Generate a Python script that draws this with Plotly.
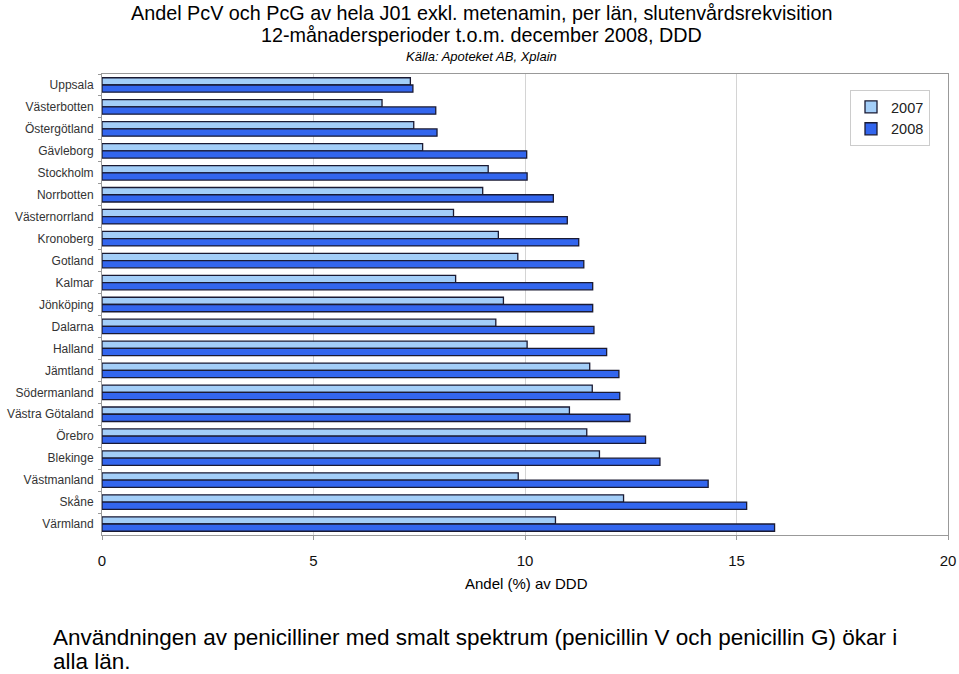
import plotly.graph_objects as go

lan = ["Uppsala", "Västerbotten", "Östergötland", "Gävleborg", "Stockholm", "Norrbotten",
       "Västernorrland", "Kronoberg", "Gotland", "Kalmar", "Jönköping", "Dalarna", "Halland",
       "Jämtland", "Södermanland", "Västra Götaland", "Örebro", "Blekinge", "Västmanland",
       "Skåne", "Värmland"]
v2007 = [7.29, 6.62, 7.37, 7.58, 9.13, 9.00, 8.31, 9.37, 9.83, 8.36, 9.49, 9.31, 10.05,
         11.53, 11.59, 11.05, 11.46, 11.76, 9.84, 12.33, 10.72]
v2008 = [7.35, 7.89, 7.92, 10.04, 10.05, 10.67, 11.00, 11.27, 11.39, 11.60, 11.60, 11.63, 11.93,
         12.22, 12.24, 12.48, 12.85, 13.19, 14.33, 15.24, 15.90]
x_ticks = [0, 5, 10, 15, 20]

L, R, T, B = 102, 11, 74, 139
W, H = 959, 674
pw, ph = W - L - R, H - T - B

def px_x(p):
    return (p - L) / pw

def px_y(p):
    return (H - B - p) / ph

fig = go.Figure()
fig.add_trace(go.Bar(y=lan, x=v2007, orientation="h", name="2007",
                     marker=dict(color="#A3CEF8", line=dict(color="#1a1a33", width=1.3))))
fig.add_trace(go.Bar(y=lan, x=v2008, orientation="h", name="2008",
                     marker=dict(color="#3366EE", line=dict(color="#1a1a33", width=1.3))))

fig.update_layout(
    width=W, height=H,
    margin=dict(l=L, r=R, t=T, b=B, pad=0, autoexpand=False),
    paper_bgcolor="white", plot_bgcolor="white",
    barmode="group", bargap=0.34, bargroupgap=0,
    font=dict(family="Liberation Sans, Arial, sans-serif", color="#000"),
    showlegend=True,
    legend=dict(x=px_x(850), y=px_y(90), xanchor="left", yanchor="top",
                bordercolor="#cccccc", borderwidth=1, bgcolor="white",
                font=dict(size=14.5, color="#222"), traceorder="normal",
                itemwidth=30, tracegroupgap=4),
)
fig.update_xaxes(range=[0, 20], tickvals=x_ticks, showgrid=True, gridcolor="#d4d4d4",
                 gridwidth=1, showline=True, linecolor="#999999", mirror=True,
                 ticks="outside", ticklen=4, tickcolor="#999999",
                 tickfont=dict(size=15, color="#111"), automargin=False,
                 ticklabelstandoff=8, zeroline=False, fixedrange=True)
fig.update_yaxes(autorange="reversed", showline=True, linecolor="#999999", mirror=True,
                 ticks="outside", ticklen=3, tickcolor="#999999", tickson="boundaries",
                 tickfont=dict(size=12, color="#333"), ticklabelstandoff=5, automargin=False,
                 showgrid=False, fixedrange=True)

fam = "Liberation Sans, Arial"
cx = px_x(481)
fig.add_annotation(text="Andel PcV och PcG av hela J01 exkl. metenamin, per län, slutenvårdsrekvisition",
                   x=cx, y=px_y(13), xref="paper", yref="paper", showarrow=False,
                   xanchor="center", yanchor="middle", font=dict(size=19.8, family=fam, color="#000"))
fig.add_annotation(text="12-månadersperioder t.o.m. december 2008, DDD",
                   x=cx, y=px_y(35), xref="paper", yref="paper", showarrow=False,
                   xanchor="center", yanchor="middle", font=dict(size=19.8, family=fam, color="#000"))
fig.add_annotation(text="<i>Källa: Apoteket AB, Xplain</i>",
                   x=cx, y=px_y(56), xref="paper", yref="paper", showarrow=False,
                   xanchor="center", yanchor="middle", font=dict(size=13, family=fam, color="#000"))
fig.add_annotation(text="Andel (%) av DDD",
                   x=px_x(526), y=px_y(583), xref="paper", yref="paper", showarrow=False,
                   xanchor="center", yanchor="middle", font=dict(size=15, family=fam, color="#000"))
fig.add_annotation(text="Användningen av penicilliner med smalt spektrum (penicillin V och penicillin G) ökar i",
                   x=px_x(51), y=px_y(637), xref="paper", yref="paper", showarrow=False,
                   xanchor="left", yanchor="middle", align="left",
                   font=dict(size=22.5, family=fam, color="#000"))
fig.add_annotation(text="alla län.",
                   x=px_x(51), y=px_y(661), xref="paper", yref="paper", showarrow=False,
                   xanchor="left", yanchor="middle", align="left",
                   font=dict(size=22.5, family=fam, color="#000"))

fig.write_html("out.html", config={"displayModeBar": False},
               post_script="document.body.style.margin='0';document.body.style.overflow='hidden';")
